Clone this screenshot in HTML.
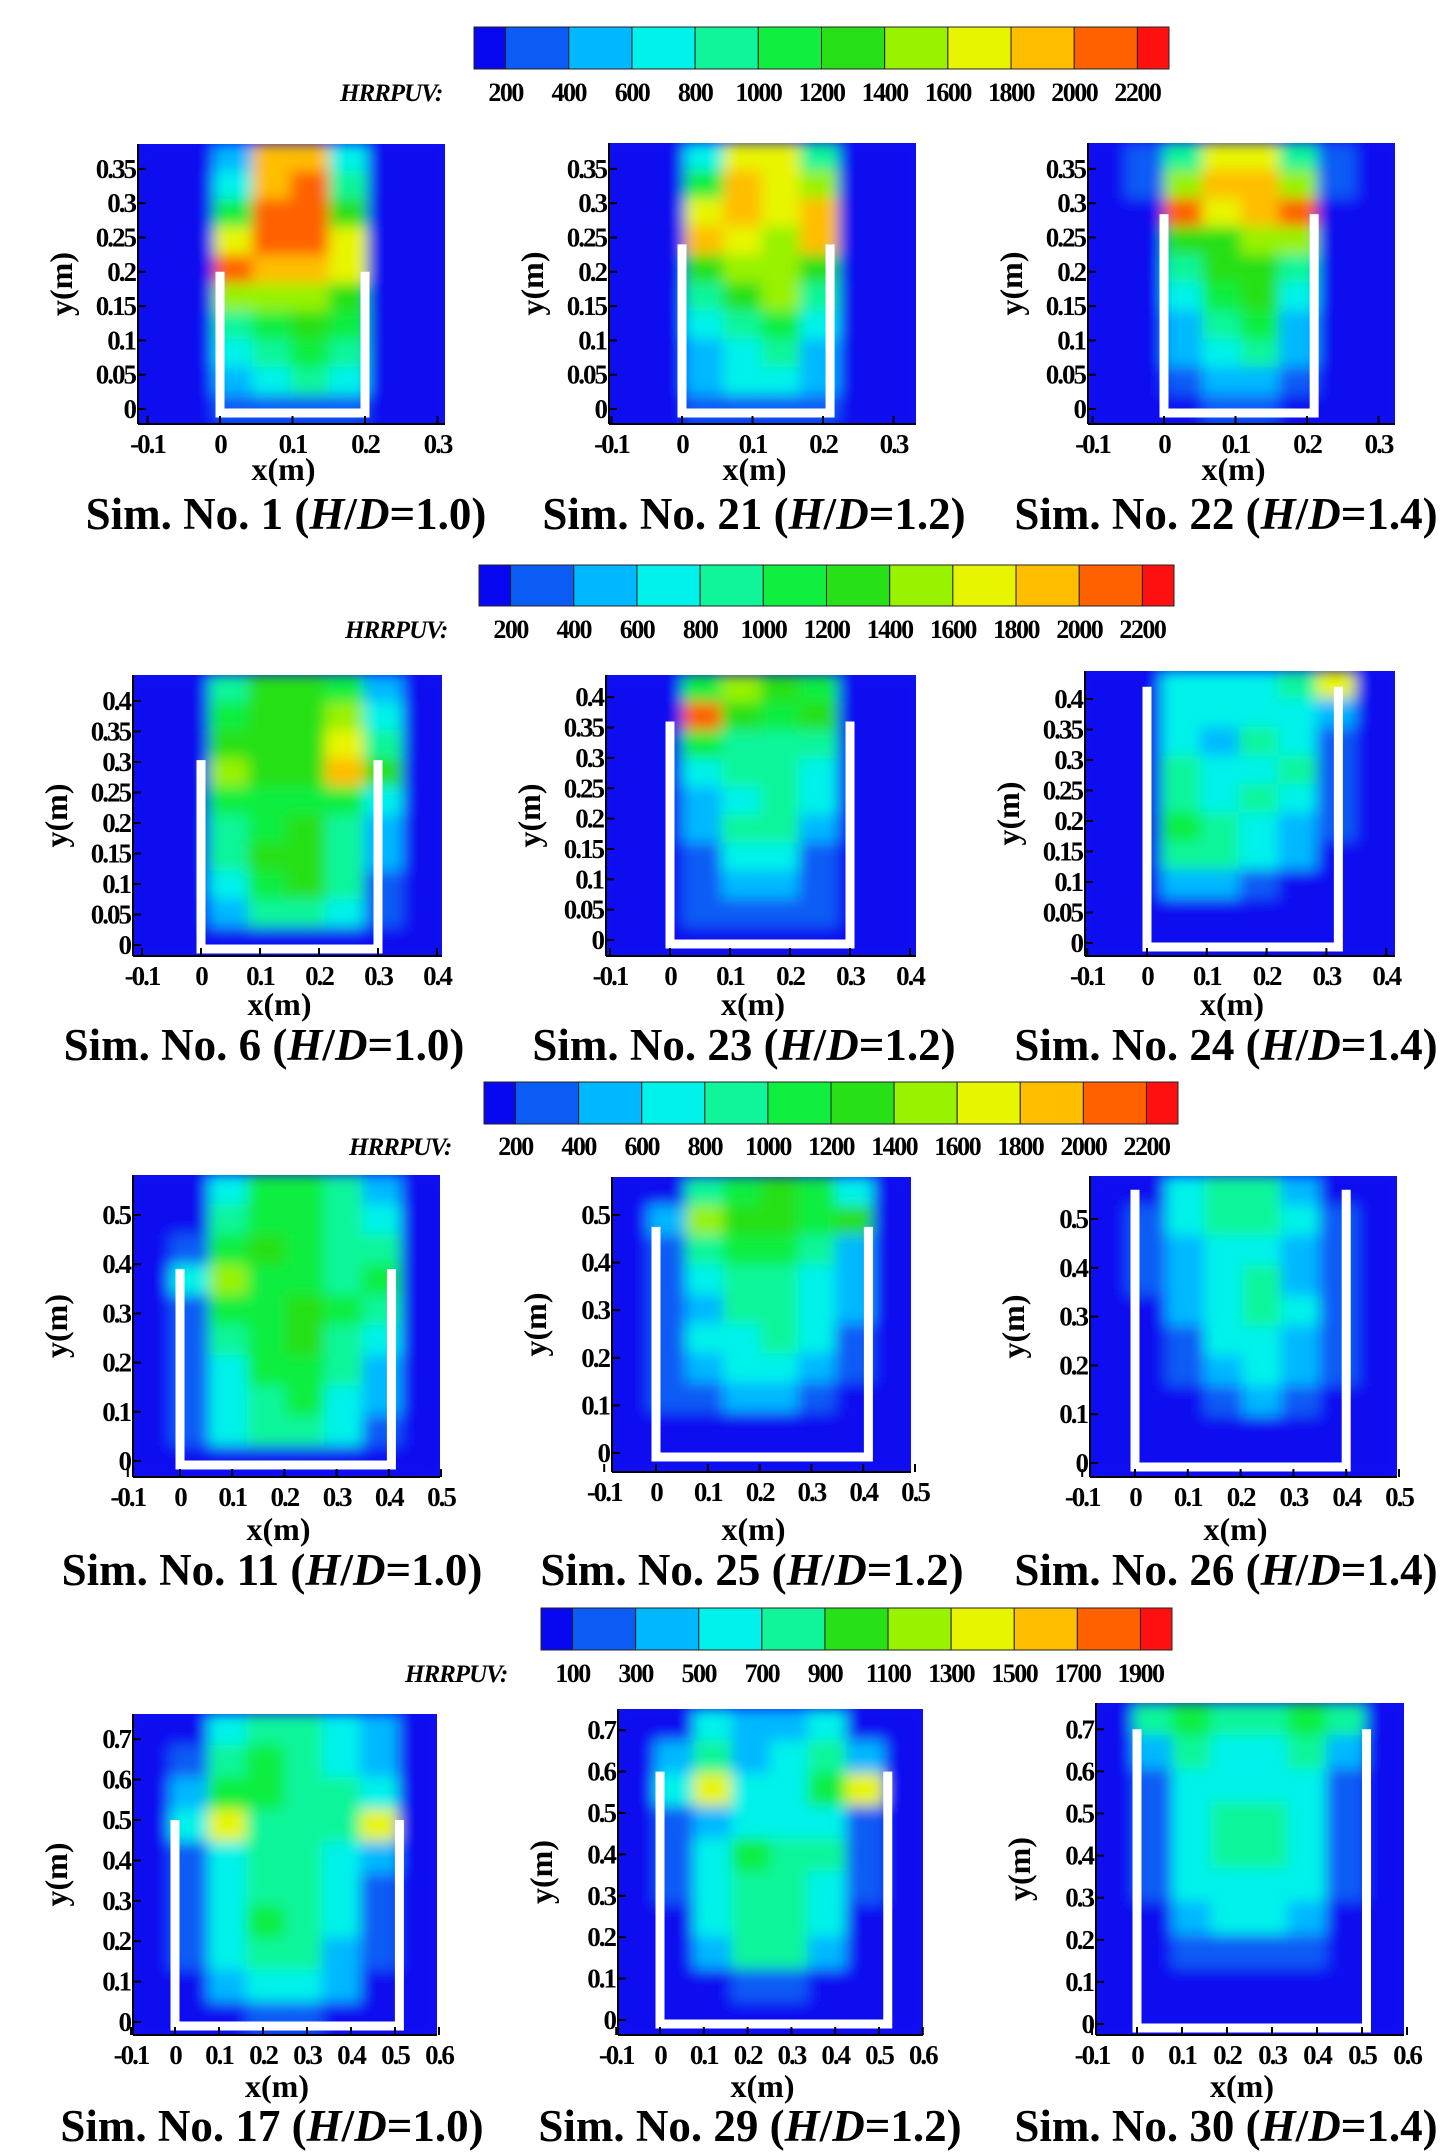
<!DOCTYPE html>
<html><head><meta charset="utf-8">
<style>
html,body{margin:0;padding:0;background:#fff;}
svg{display:block;}
text{font-family:"Liberation Serif",serif;font-weight:bold;fill:#000;}
</style></head>
<body>
<svg id="fig" width="1452" height="2156" viewBox="0 0 1452 2156" xmlns="http://www.w3.org/2000/svg">
<defs><filter id="soft" x="-5%" y="-5%" width="110%" height="110%"><feGaussianBlur stdDeviation="7"/></filter></defs>
</svg>
<script>
const levelColors=['#0808f0','#0a5cf5','#00b8ff','#00f2ea','#10f59a','#10ee40','#28e018','#98f200','#e8f500','#ffbe00','#ff6000','#ff1010'];
const cbLabelsA=['200','400','600','800','1000','1200','1400','1600','1800','2000','2200'];
const cbLabelsB=['100','300','500','700','900','1100','1300','1500','1700','1900'];
const xTicks1=[-0.1,0,0.1,0.2,0.3], yTicks1=[0,0.05,0.1,0.15,0.2,0.25,0.3,0.35];
const xTicks2=[-0.1,0,0.1,0.2,0.3,0.4], yTicks2=[0,0.05,0.1,0.15,0.2,0.25,0.3,0.35,0.4];
const xTicks3=[-0.1,0,0.1,0.2,0.3,0.4,0.5], yTicks3=[0,0.1,0.2,0.3,0.4,0.5];
const xTicks4=[-0.1,0,0.1,0.2,0.3,0.4,0.5,0.6], yTicks4=[0,0.1,0.2,0.3,0.4,0.5,0.6,0.7];
const grid1=[[0,0,2,9,9,3,0,0],[0,0,3,9,10,4,0,0],[0,0,5,10,10,6,0,0],[0,0,8,10,10,8,0,0],[0,0,10,9,9,8,0,0],[0,0,7,7,7,6,0,0],[0,0,4,5,6,5,0,0],[0,0,3,4,5,4,0,0],[0,0,2,3,4,3,0,0],[0,0,1,1,1,1,0,0]];
const grid21=[[0,0,3,8,8,4,0,0],[0,0,5,9,8,7,0,0],[0,0,8,9,8,9,0,0],[0,0,9,8,7,9,0,0],[0,0,6,7,7,6,0,0],[0,0,4,6,7,4,0,0],[0,0,3,4,5,3,0,0],[0,0,2,3,4,2,0,0],[0,0,2,3,3,2,0,0],[0,0,1,1,1,1,0,0]];
const grid22=[[0,1,4,8,8,4,1,0],[0,1,7,9,9,7,1,0],[0,0,10,8,9,10,0,0],[0,0,6,6,7,7,0,0],[0,0,4,6,6,4,0,0],[0,0,3,5,6,3,0,0],[0,0,2,4,5,2,0,0],[0,0,2,3,4,2,0,0],[0,0,1,2,2,1,0,0],[0,0,0,1,1,0,0,0]];
const grid6=[[0,0,4,6,6,5,2,0],[0,0,5,6,6,7,3,0],[0,0,6,6,6,8,4,0],[0,0,7,6,6,9,6,0],[0,0,5,5,5,5,3,0],[0,0,4,5,6,4,2,0],[0,0,4,6,6,4,2,0],[0,0,3,5,6,4,1,0],[0,0,2,4,4,3,1,0],[0,0,0,0,0,0,0,0]];
const grid23=[[0,0,5,7,6,5,0,0],[0,0,10,6,5,6,0,0],[0,0,5,4,4,4,0,0],[0,0,3,4,4,3,0,0],[0,0,2,3,4,3,0,0],[0,0,2,4,4,2,0,0],[0,0,1,3,3,1,0,0],[0,0,1,2,2,1,0,0],[0,0,1,1,1,1,0,0],[0,0,0,0,0,0,0,0]];
const grid24=[[0,0,3,3,3,4,8,0],[0,0,3,3,3,3,2,0],[0,0,3,2,4,3,1,0],[0,0,4,3,3,4,1,0],[0,0,4,3,4,3,1,0],[0,0,5,4,3,2,1,0],[0,0,4,4,3,2,0,0],[0,0,2,2,1,0,0,0],[0,0,0,0,0,0,0,0],[0,0,0,0,0,0,0,0]];
const grid11=[[0,0,3,5,5,4,2,0],[0,0,4,5,5,4,3,0],[0,1,5,6,5,4,4,0],[0,3,7,5,5,4,5,0],[0,1,5,5,6,5,4,0],[0,1,4,5,6,4,3,0],[0,1,3,5,5,4,2,0],[0,1,3,4,5,3,2,0],[0,1,3,4,4,3,1,0],[0,0,0,0,0,0,0,0]];
const grid25=[[0,0,4,5,6,5,3,0],[0,2,7,6,6,5,6,0],[0,1,4,5,5,4,2,0],[0,1,3,4,4,3,2,0],[0,1,2,4,4,3,2,0],[0,1,3,3,4,3,1,0],[0,1,2,3,3,2,1,0],[0,1,1,2,2,1,0,0],[0,0,0,0,0,0,0,0],[0,0,0,0,0,0,0,0]];
const grid26=[[0,0,3,4,4,2,0,0],[0,1,3,4,4,3,1,0],[0,1,2,3,3,2,1,0],[0,1,2,3,4,2,1,0],[0,0,2,3,4,3,1,0],[0,0,1,3,3,2,1,0],[0,0,1,2,3,2,1,0],[0,0,0,1,2,1,0,0],[0,0,0,0,0,0,0,0],[0,0,0,0,0,0,0,0]];
const grid17=[[0,0,3,4,4,3,2,0],[0,1,4,5,4,3,2,0],[0,2,5,5,4,4,3,0],[0,3,8,4,4,4,8,0],[0,1,3,4,4,3,2,0],[0,1,3,4,4,3,1,0],[0,1,3,5,4,3,1,0],[0,1,3,4,4,2,1,0],[0,0,2,3,3,2,0,0],[0,0,0,1,1,0,0,0]];
const grid29=[[0,0,3,2,2,3,0,0],[0,2,4,2,3,4,2,0],[0,3,8,3,3,5,8,0],[0,1,2,3,3,3,1,0],[0,1,3,5,4,4,1,0],[0,1,3,4,4,3,1,0],[0,0,3,4,4,3,0,0],[0,0,2,4,4,2,0,0],[0,0,0,1,1,0,0,0],[0,0,0,0,0,0,0,0]];
const grid30=[[0,4,5,4,4,5,4,0],[0,2,4,3,3,4,2,0],[0,1,3,3,3,3,1,0],[0,1,3,4,4,3,1,0],[0,1,3,4,4,3,1,0],[0,1,3,3,3,3,1,0],[0,0,2,3,3,2,0,0],[0,0,1,1,1,1,0,0],[0,0,0,0,0,0,0,0],[0,0,0,0,0,0,0,0]];

const svg=document.getElementById('fig');
const NS='http://www.w3.org/2000/svg';
function mk(tag,attrs,parent){const e=document.createElementNS(NS,tag);for(const k in attrs)e.setAttribute(k,attrs[k]);(parent||svg).appendChild(e);return e;}

const colorbars=[
 {x:474,y:27,w:695,h:42,ly:101,hx:340,labels:cbLabelsA},
 {x:479,y:565,w:695,h:41,ly:638,hx:345,labels:cbLabelsA},
 {x:484,y:1082,w:694,h:42,ly:1155,hx:349,labels:cbLabelsA},
 {x:541,y:1608,w:631,h:42,ly:1682,hx:405,labels:cbLabelsB}
];
colorbars.forEach((cb,ci)=>{
 const g=mk('g',{});
 
 
 const n=cb.labels.length; const step=cb.w/n;
 const nSeg=n+1;
 for(let i=0;i<nSeg;i++){
  const x0=i===0?cb.x:cb.x+step/2+(i-1)*step;
  const x1=i===nSeg-1?cb.x+cb.w:cb.x+step/2+i*step;
  const ci2=Math.round(i*(levelColors.length-1)/(nSeg-1));
  const r=mk('rect',{x:x0,y:cb.y,width:x1-x0,height:cb.h,fill:levelColors[ci2],stroke:'#222','stroke-width':1},g);
  
  
 }
 const ht=mk('text',{x:cb.hx,y:cb.ly,'font-size':25,'font-style':'italic','letter-spacing':-1},g);ht.textContent='HRRPUV:';
 
 
 cb.labels.forEach((l,i)=>{
  const t=mk('text',{x:cb.x+step/2+i*step,y:cb.ly,'font-size':26,'text-anchor':'middle','letter-spacing':-1.5},g);t.textContent=l;
  
  
 });
});

const panels=[
 {id:'1',hd:'1.0',grid:grid1,r:[138,144,445,424],x0:220,xs:725,y0:409,ys:686,W:0.2,H:0.2,xt:xTicks1,yt:yTicks1,xly:467,ty:513,tx:286},
 {id:'21',hd:'1.2',grid:grid21,r:[609,143,916,424],x0:682,xs:705,y0:409,ys:686,W:0.21,H:0.24,xt:xTicks1,yt:yTicks1,xly:467,ty:513,tx:754},
 {id:'22',hd:'1.4',grid:grid22,r:[1088,143,1395,424],x0:1164,xs:715,y0:409,ys:686,W:0.21,H:0.284,xt:xTicks1,yt:yTicks1,xly:467,ty:513,tx:1226},
 {id:'6',hd:'1.0',grid:grid6,r:[133,675,442,956],x0:201,xs:590,y0:945,ys:610,W:0.3,H:0.303,xt:xTicks2,yt:yTicks2,xly:1002,ty:1044,tx:264},
 {id:'23',hd:'1.2',grid:grid23,r:[606,675,916,956],x0:670,xs:600,y0:940,ys:607,W:0.3,H:0.36,xt:xTicks2,yt:yTicks2,xly:1002,ty:1044,tx:744},
 {id:'24',hd:'1.4',grid:grid24,r:[1085,671,1395,956],x0:1147,xs:598,y0:943,ys:610,W:0.32,H:0.42,xt:xTicks2,yt:yTicks2,xly:1002,ty:1044,tx:1226},
 {id:'11',hd:'1.0',grid:grid11,r:[133,1175,440,1477],x0:180,xs:522,y0:1461,ys:492,W:0.405,H:0.39,xt:xTicks3,yt:yTicks3,xly:1527,ty:1569,tx:272},
 {id:'25',hd:'1.2',grid:grid25,r:[612,1177,911,1472],x0:656,xs:518,y0:1453,ys:476,W:0.41,H:0.475,xt:xTicks3,yt:yTicks3,xly:1527,ty:1569,tx:752},
 {id:'26',hd:'1.4',grid:grid26,r:[1090,1176,1397,1477],x0:1135,xs:528,y0:1463,ys:488,W:0.4,H:0.56,xt:xTicks3,yt:yTicks3,xly:1527,ty:1569,tx:1226},
 {id:'17',hd:'1.0',grid:grid17,r:[133,1714,437,2035],x0:175,xs:440,y0:2022,ys:404,W:0.51,H:0.5,xt:xTicks4,yt:yTicks4,xly:2084,ty:2125,tx:272},
 {id:'29',hd:'1.2',grid:grid29,r:[618,1709,923,2035],x0:660,xs:438,y0:2020,ys:414,W:0.52,H:0.6,xt:xTicks4,yt:yTicks4,xly:2084,ty:2125,tx:750},
 {id:'30',hd:'1.4',grid:grid30,r:[1096,1703,1404,2035],x0:1137,xs:450,y0:2024,ys:421,W:0.51,H:0.7,xt:xTicks4,yt:yTicks4,xly:2084,ty:2125,tx:1226}
];
function fmt(v){if(Math.abs(v)<1e-9)return '0';return (Math.round(v*100)/100).toString();}
panels.forEach(p=>{
 const X=v=>p.x0+v*p.xs, Y=v=>p.y0-v*p.ys;
 const [L,T,R,B]=p.r;
 const xmin=(L-p.x0)/p.xs, xmax=(R-p.x0)/p.xs, ymax=(p.y0-T)/p.ys, ymin=(p.y0-B)/p.ys;
 const g=mk('g',{});
 
 
 const cid='clip'+p.id;
 const cp=mk('clipPath',{id:cid},svg.querySelector('defs'));
 mk('rect',{x:L,y:T,width:R-L,height:B-T},cp);
 const bg=mk('rect',{x:L,y:T,width:R-L,height:B-T,fill:levelColors[0]},g);
 
 
 const hg=mk('g',{'clip-path':'url(#'+cid+')'},g);
 const bl=mk('g',{filter:'url(#soft)'},hg);
 
 
 const nr=p.grid.length, nc=p.grid[0].length;
 const dx=(xmax-xmin)/nc, dy=(ymax-ymin)/nr;
 p.grid.forEach((row,ri)=>row.forEach((v,cj)=>{
  const x1=X(xmin+cj*dx), x2=X(xmin+(cj+1)*dx), y1=Y(ymax-ri*dy), y2=Y(ymax-(ri+1)*dy);
  const c=mk('rect',{x:x1-1,y:y1-1,width:x2-x1+2,height:y2-y1+2,fill:levelColors[v]},bl);
  
  
 }));
 const w=mk('polyline',{points:`${X(0)},${Y(p.H)} ${X(0)},${Y(0)+4} ${X(p.W)},${Y(0)+4} ${X(p.W)},${Y(p.H)}`,fill:'none',stroke:'#fff','stroke-width':9},hg);
 
 
 mk('line',{x1:L,y1:B,x2:R,y2:B,stroke:'#000','stroke-width':2},g);
 mk('line',{x1:L,y1:T,x2:L,y2:B,stroke:'#000','stroke-width':2},g);
 p.xt.forEach(v=>{
  mk('line',{x1:X(v),y1:B,x2:X(v),y2:B-8,stroke:'#000','stroke-width':2},g);
  const t=mk('text',{x:X(v),y:B+29,'font-size':27,'text-anchor':'middle','letter-spacing':-2},g);t.textContent=fmt(v);
  
  
 });
 p.yt.forEach(v=>{
  mk('line',{x1:L,y1:Y(v),x2:L+8,y2:Y(v),stroke:'#000','stroke-width':2},g);
  const t=mk('text',{x:L-3,y:Y(v)+9,'font-size':27,'text-anchor':'end','letter-spacing':-2},g);t.textContent=fmt(v);
  
  
 });
 const xl=mk('text',{x:(L+R)/2-8,y:p.xly+13,'font-size':32,'text-anchor':'middle'},g);xl.textContent='x(m)';
 
 
 const yc=(T+B)/2;
 const yl=mk('text',{x:L-66,y:yc,'font-size':32,'text-anchor':'middle',transform:`rotate(-90 ${L-66} ${yc})`},g);yl.textContent='y(m)';
 
 
 const tt=mk('text',{x:p.tx,y:p.ty+16,'font-size':45,'text-anchor':'middle'},g);
 
 
 tt.innerHTML=`Sim. No. ${p.id} (<tspan font-style="italic">H</tspan>/<tspan font-style="italic">D</tspan>=${p.hd})`;
});
</script>
</body></html>
